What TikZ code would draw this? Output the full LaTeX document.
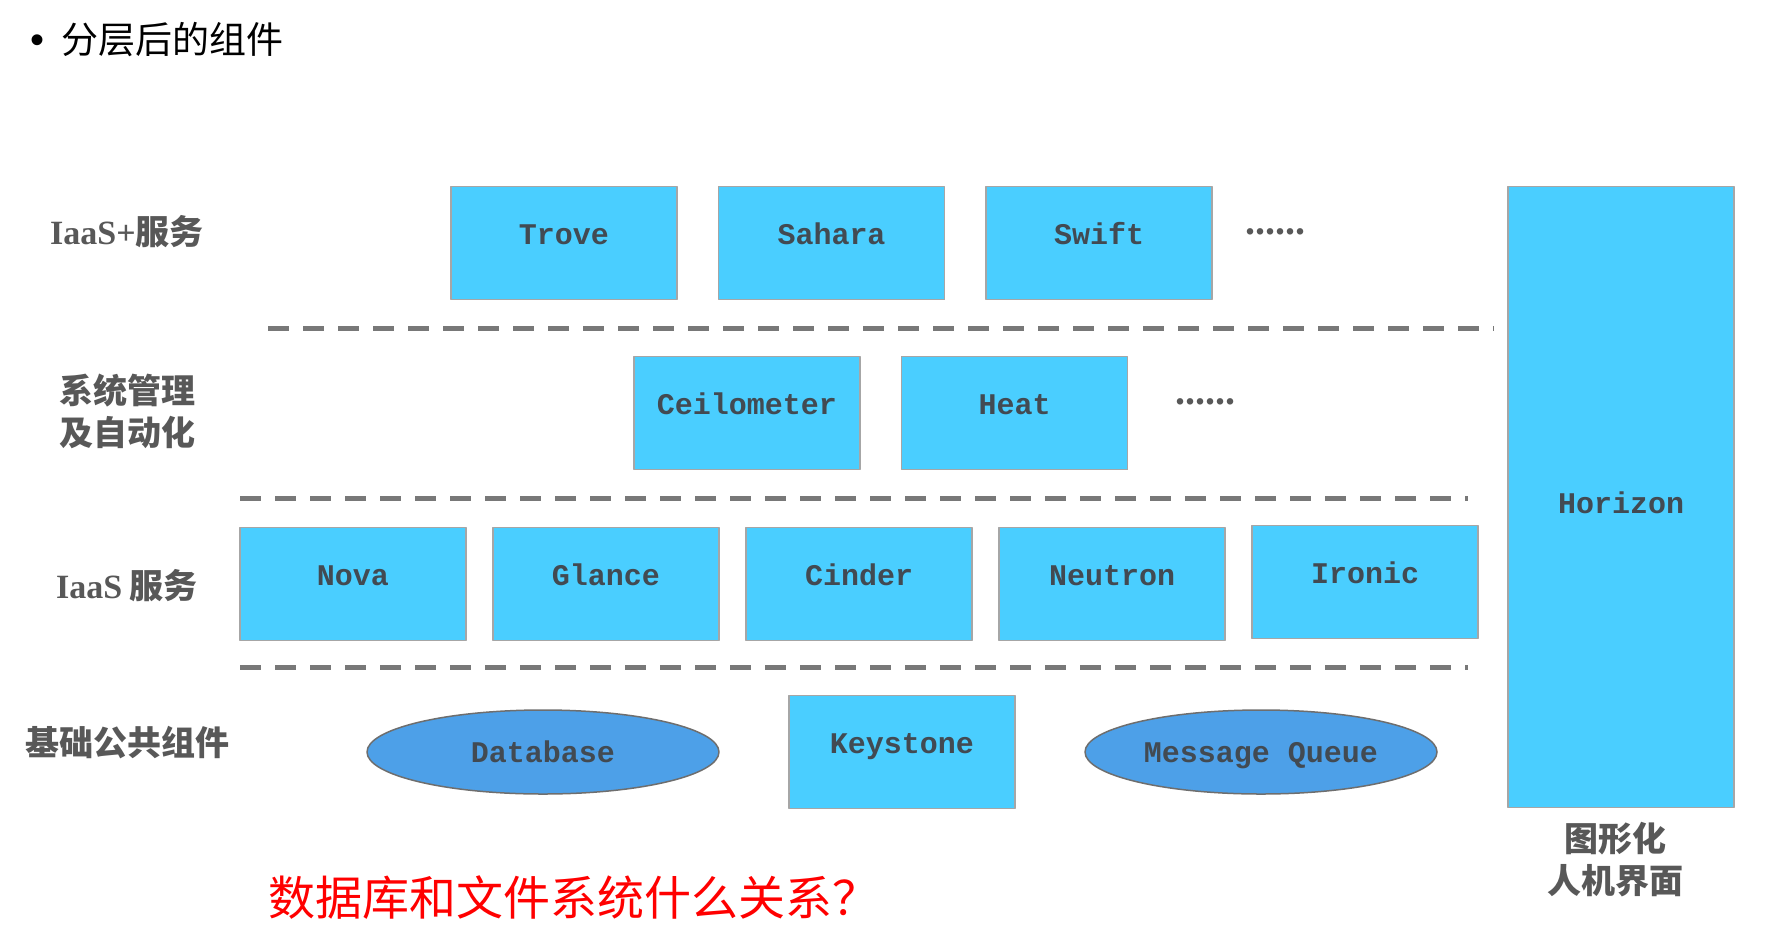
\documentclass[tikz,border=0pt]{standalone}
\usepackage{fontspec}
\usepackage{xcolor}
\usetikzlibrary{positioning,shapes.geometric}

\newfontfamily\cjkfont{Noto Sans CJK SC}
\newfontfamily\monofont{Liberation Mono}
\newfontfamily\serifont{Liberation Serif}
\newfontfamily\sansfont{Liberation Sans}

\definecolor{boxblue}{RGB}{74,206,255}
\definecolor{ovalblue}{RGB}{77,160,232}
\definecolor{boxedge}{RGB}{166,166,166}
\definecolor{ovaledge}{RGB}{110,110,110}
\definecolor{comptext}{RGB}{66,74,82}
\definecolor{layertext}{RGB}{88,88,88}
\definecolor{sepgray}{RGB}{120,120,120}

\begin{document}
\begin{tikzpicture}[x=1pt, y=-1pt, line join=round,
  comp/.style={draw=boxedge, line width=1.5pt, fill=boxblue,
    minimum width=226pt, minimum height=113pt, inner sep=0pt,
    font=\monofont\bfseries\fontsize{30}{30}\selectfont, text=comptext,
    text height=20pt, text depth=18pt},
  oval/.style={ellipse, draw=ovaledge, line width=1.5pt, fill=ovalblue,
    minimum width=352pt, minimum height=84pt, inner sep=0pt,
    font=\monofont\bfseries\fontsize{30}{30}\selectfont, text=comptext,
    text height=22pt, text depth=2pt},
  layer/.style={font=\cjkfont\bfseries\fontsize{34}{42}\selectfont,
    text=layertext, align=center, inner sep=0pt},
  sep/.style={draw=sepgray, line width=5pt, dash pattern=on 21pt off 14pt}]

\useasboundingbox (0,0) rectangle (1775,946);

% ---------------------------------------------------------
% Title
% ---------------------------------------------------------
\node[anchor=west, inner sep=0pt, font=\cjkfont\fontsize{37}{37}\selectfont]
  (title) at (30,40) {{\sansfont\fontsize{40}{40}\selectfont •}\hspace{17pt}分层后的组件};

% ---------------------------------------------------------
% Layer labels (left column)
% ---------------------------------------------------------
\node[layer] (lplus)  at (127,232) {{\serifont IaaS+}服务};
\node[layer] (lmgmt)  at (127,411) {系统管理\\及自动化};
\node[layer] (liaas)  at (127,586) {{\serifont IaaS} 服务};
\node[layer] (lbase)  at (127,743) {基础公共组件};

% ---------------------------------------------------------
% IaaS+ services
% ---------------------------------------------------------
\node[comp] (trove) at (564,243) {Trove};
\node[comp, right=40pt of trove]  (sahara) {Sahara};
\node[comp, right=40pt of sahara] (swift)  {Swift};
\node[inner sep=0pt, text=layertext,
      font=\serifont\bfseries\fontsize{40}{40}\selectfont]
  (more1) at (1275,232) {......};

% separator 1
\coordinate (s1a) at (268,328);
\coordinate (s1b) at (1494,328);
\draw[sep] (s1a) -- (s1b);

% ---------------------------------------------------------
% Management and automation
% ---------------------------------------------------------
\node[comp] (ceilo) at (747,413) {Ceilometer};
\node[comp, right=40pt of ceilo] (heat) {Heat};
\node[inner sep=0pt, text=layertext,
      font=\serifont\bfseries\fontsize{40}{40}\selectfont]
  (more2) at (1205,402) {......};

% separator 2
\coordinate (s2a) at (240,498);
\coordinate (s2b) at (1468,498);
\draw[sep] (s2a) -- (s2b);

% ---------------------------------------------------------
% IaaS services
% ---------------------------------------------------------
\node[comp] (nova) at (353,584) {Nova};
\node[comp, right=25.5pt of nova]    (glance)  {Glance};
\node[comp, right=25.5pt of glance]  (cinder)  {Cinder};
\node[comp, right=25.5pt of cinder]  (neutron) {Neutron};
\node[comp, right=25.5pt of neutron, yshift=2pt] (ironic) {Ironic};

% separator 3
\coordinate (s3a) at (240,667);
\coordinate (s3b) at (1468,667);
\draw[sep] (s3a) -- (s3b);

% ---------------------------------------------------------
% Common base components
% ---------------------------------------------------------
\node[oval] (db) at (543,752) {Database};
\node[comp] (keystone) at (902,752) {Keystone};
\node[oval] (mq) at (1261,752) {Message Queue};

% ---------------------------------------------------------
% Dashboard (right column)
% ---------------------------------------------------------
\node[comp, minimum height=621pt, text height=34pt, text depth=2pt]
  (horizon) at (1621,497) {Horizon};
\node[layer, below=14pt of horizon, xshift=-6pt] (lgui) {图形化\\人机界面};

% ---------------------------------------------------------
% Question
% ---------------------------------------------------------
\node[anchor=west, inner sep=0pt, text=red,
      font=\cjkfont\fontsize{47}{47}\selectfont]
  (question) at (268,898) {数据库和文件系统什么关系？};

\end{tikzpicture}
\end{document}
